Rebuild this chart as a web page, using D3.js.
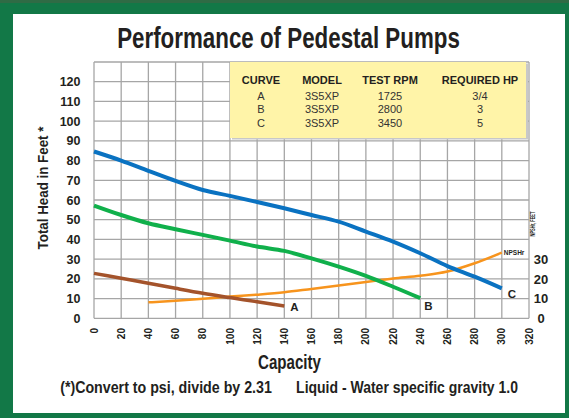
<!DOCTYPE html>
<html><head><meta charset="utf-8">
<script src="https://cdn.jsdelivr.net/npm/d3@7"></script>
<style>body{margin:0;background:#fff}svg{display:block}</style>
</head><body><div id="chart"></div>
<script>
// ---- data ----
const capC = [0,20,40,60,80,100,120,140,160,180,200,220,240,260,280,300];
const headC = [84.6,80,74.8,69.7,65.1,62.1,59,55.8,52.4,49,44,38.9,33,26.5,21.1,15.2];
const capB = [0,20,40,60,80,100,120,140,160,180,200,220,240];
const headB = [57.2,52.4,48.2,45.2,42.3,39.4,36.4,34.2,30.4,26.2,21.5,16,10.2];
const capA = [0,20,40,60,80,100,120,140];
const headA = [22.8,20.3,17.8,15.2,12.7,10.5,8.4,6.2];
const capN = [40,60,80,100,120,140,160,180,200,220,240,260,280,300];
const npshr = [8.1,8.9,9.9,11,12,13.2,14.9,16.6,18.4,20.2,21.6,23.7,27.9,33.3];
const xTicks = [0,20,40,60,80,100,120,140,160,180,200,220,240,260,280,300,320];
const yTicks = [0,10,20,30,40,50,60,70,80,90,100,110,120];
const rightTicks = [0,10,20,30];
const tableHeader = ["CURVE","MODEL","TEST RPM","REQUIRED HP"];
const tableRows = [["A","3S5XP","1725","3/4"],["B","3S5XP","2800","3"],["C","3S5XP","3450","5"]];
const title = "Performance of Pedestal Pumps";

const W=569,H=418;
const svg=d3.select("#chart").append("svg").attr("width",W).attr("height",H);
const sans="'Liberation Sans',Arial,Helvetica,sans-serif";
const ink="#231f20";

// frame
svg.append("rect").attr("width",W).attr("height",H).attr("fill","#127847");
svg.append("rect").attr("x",0).attr("y",0).attr("width",W).attr("height",3).attr("fill","#2f6b45");
svg.append("rect").attr("x",13).attr("y",14).attr("width",552).attr("height",399).attr("fill","#fff");

const x=d3.scaleLinear().domain([0,320]).range([94,529]);
const y=d3.scaleLinear().domain([0,130]).range([318.3,62]);

// condensed text helper: horizontally scale text to a target width
function fitText(parent,txt,cx,cy,width,fs,rot){
  const t=parent.append("text").attr("font-family",sans).attr("font-weight","bold")
    .attr("font-size",fs).attr("fill",ink).attr("text-anchor","middle").text(txt);
  const nat=t.node().getComputedTextLength();
  const s=width/nat;
  t.attr("transform",`translate(${cx},${cy}) rotate(${rot||0}) scale(${s},1)`);
  return t;
}

// title
fitText(svg,title,288.5,48,343,30);

// grid
const g=svg.append("g");
g.selectAll("line.v").data(xTicks).join("line").attr("x1",d=>x(d)).attr("x2",d=>x(d))
  .attr("y1",y(130)).attr("y2",y(0)).attr("stroke","#a6a6a6").attr("stroke-width",1.3);
g.selectAll("line.h").data(d3.range(0,131,10)).join("line").attr("x1",x(0)).attr("x2",x(320))
  .attr("y1",d=>y(d)).attr("y2",d=>y(d)).attr("stroke","#a6a6a6").attr("stroke-width",1.3);

// table box
svg.append("rect").attr("x",232).attr("y",63.5).attr("width",296).attr("height",76).attr("fill","#c8c8c8");
svg.append("rect").attr("x",230).attr("y",62).attr("width",296).attr("height",76).attr("fill","#fff4a8");
const colX=[261,322,390,480];
svg.append("g").selectAll("text").data(tableHeader).join("text").attr("x",(d,i)=>colX[i]).attr("y",84)
  .attr("text-anchor","middle").attr("font-family",sans).attr("font-weight","bold").attr("font-size",11)
  .attr("fill",ink).text(d=>d);
tableRows.forEach((r,ri)=>{
  svg.append("g").selectAll("text").data(r).join("text").attr("x",(d,i)=>colX[i]).attr("y",100+ri*13.4)
    .attr("text-anchor","middle").attr("font-family",sans).attr("font-size",11).attr("fill","#333").text(d=>d);
});

// axes labels
svg.append("g").selectAll("text").data(yTicks).join("text").attr("x",80.5).attr("y",d=>y(d)).attr("dy","0.36em")
  .attr("text-anchor","end").attr("font-family",sans).attr("font-weight","bold").attr("font-size",12.5)
  .attr("fill",ink).text(d=>d);
svg.append("g").selectAll("text").data(xTicks).join("text")
  .attr("transform",d=>`translate(${x(d)},328) rotate(-90)`).attr("dy","0.36em")
  .attr("text-anchor","end").attr("font-family",sans).attr("font-weight","bold").attr("font-size",10)
  .attr("fill",ink).text(d=>d);
svg.append("g").selectAll("text").data(rightTicks).join("text").attr("x",541).attr("y",d=>y(d)).attr("dy","0.36em")
  .attr("text-anchor","middle").attr("font-family",sans).attr("font-weight","bold").attr("font-size",13)
  .attr("fill",ink).text(d=>d);
fitText(svg,"NPSHr, FEET",535,224,25,8,-90);

fitText(svg,"Total Head in Feet *",48,188,123,15,-90);
fitText(svg,"Capacity",289.5,369,63,20);
fitText(svg,"(*)Convert to psi, divide by 2.31",166,393,212,17);
fitText(svg,"Liquid - Water specific gravity 1.0",407,393,222,17);

// curves
const line=d3.line().x(d=>x(d[0])).y(d=>y(d[1])).curve(d3.curveMonotoneX);
const series=[
  {c:capN,v:npshr,col:"#f7941d",w:2.5},
  {c:capA,v:headA,col:"#a4532b",w:3.5},
  {c:capB,v:headB,col:"#10b04b",w:4},
  {c:capC,v:headC,col:"#0a72c1",w:4}
];
series.forEach(s=>{
  svg.append("path").datum(d3.zip(s.c,s.v)).attr("d",line).attr("fill","none")
    .attr("stroke",s.col).attr("stroke-width",s.w).attr("stroke-linecap","butt");
});
// curve labels
const endLabel=(txt,xv,yv,dx,dy,fs)=>svg.append("text").attr("x",x(xv)+dx).attr("y",y(yv)+dy)
  .attr("font-family",sans).attr("font-weight","bold").attr("font-size",fs).attr("fill",ink).text(txt);
endLabel("A",capA[capA.length-1],headA[headA.length-1],6,5,11.5);
endLabel("B",capB[capB.length-1],headB[headB.length-1],4,12,11.5);
endLabel("C",capC[capC.length-1],headC[headC.length-1],6,10,11.5);
endLabel("NPSHr",capN[capN.length-1],npshr[npshr.length-1],2,2,6.5);
</script></body></html>
